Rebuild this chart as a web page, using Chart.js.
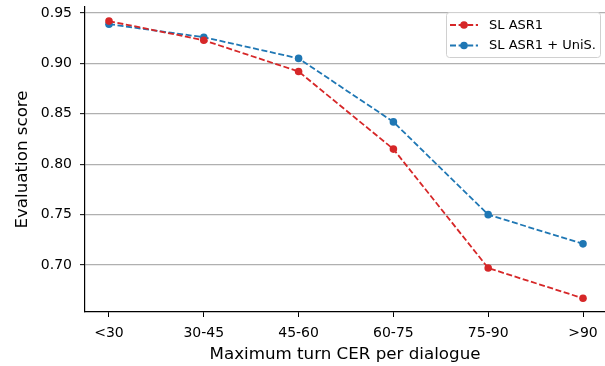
<!DOCTYPE html>
<html>
<head>
<meta charset="utf-8">
<script src="https://cdn.jsdelivr.net/npm/chart.js@4"></script>
<style>
  html, body { margin: 0; padding: 0; background: #fff; }
  #wrap { width: 605px; height: 366px; }
</style>
</head>
<body>
<div id="wrap"><canvas id="chart" width="605" height="366"></canvas></div>
<script>
const categories = ["<30", "30-45", "45-60", "60-75", "75-90", ">90"];
const slAsr1 = [0.942, 0.923, 0.892, 0.815, 0.697, 0.667];
const slAsr1Unis = [0.939, 0.926, 0.905, 0.842, 0.750, 0.721];
const yTicks = [0.70, 0.75, 0.80, 0.85, 0.90, 0.95];

const RED = "#d62728";
const BLUE = "#1f77b4";
const FONT = "'DejaVu Sans', sans-serif";
const DASH = [6, 2.6];

const toPoints = (arr) => arr.map((v, i) => ({ x: i, y: v }));

// legend box drawn inside the plot, matplotlib style
const boxLegend = {
  id: "boxLegend",
  afterDraw(chart) {
    const ctx = chart.ctx;
    const x0 = 446, y0 = 12, w = 154, h = 45;
    ctx.save();
    ctx.fillStyle = "rgba(255,255,255,0.8)";
    ctx.strokeStyle = "#d0d0d0";
    ctx.lineWidth = 1;
    ctx.beginPath();
    ctx.roundRect(x0 + 0.5, y0 + 0.5, w, h, 3);
    ctx.fill();
    ctx.stroke();
    chart.data.datasets.forEach((ds, i) => {
      const y = y0 + 13 + i * 20.5;
      ctx.strokeStyle = ds.borderColor;
      ctx.lineWidth = 1.8;
      ctx.setLineDash(DASH);
      ctx.beginPath();
      ctx.moveTo(450, y);
      ctx.lineTo(478, y);
      ctx.stroke();
      ctx.setLineDash([]);
      ctx.fillStyle = ds.borderColor;
      ctx.beginPath();
      ctx.arc(464, y, 3.8, 0, Math.PI * 2);
      ctx.fill();
      ctx.fillStyle = "#000";
      ctx.font = "13px " + FONT;
      ctx.textBaseline = "middle";
      ctx.fillText(ds.label, 489, y + 0.5);
    });
    ctx.restore();
  }
};

const ctx = document.getElementById("chart").getContext("2d");

new Chart(ctx, {
  type: "line",
  data: {
    datasets: [
      {
        label: "SL ASR1",
        data: toPoints(slAsr1),
        borderColor: RED,
        backgroundColor: RED,
        borderWidth: 1.8,
        borderDash: DASH,
        pointRadius: 3.8,
        pointBorderWidth: 0,
        fill: false,
      },
      {
        label: "SL ASR1 + UniS.",
        data: toPoints(slAsr1Unis),
        borderColor: BLUE,
        backgroundColor: BLUE,
        borderWidth: 1.8,
        borderDash: DASH,
        pointRadius: 3.8,
        pointBorderWidth: 0,
        fill: false,
      },
    ],
  },
  options: {
    responsive: false,
    animation: false,
    layout: { autoPadding: false, padding: { top: 7, right: 0, left: 0, bottom: 0 } },
    plugins: {
      legend: { display: false },
      tooltip: { enabled: false },
    },
    scales: {
      x: {
        type: "linear",
        min: -0.253,
        max: 5.232,
        afterBuildTicks: (axis) => {
          axis.ticks = categories.map((c, i) => ({ value: i }));
        },
        afterFit: (axis) => {
          axis.height = 54;
          axis.paddingLeft = 0;
          axis.paddingRight = 0;
        },
        ticks: {
          callback: (v) => categories[v],
          color: "#000",
          font: { family: FONT, size: 14 },
          padding: 8,
          maxRotation: 0,
          autoSkip: false,
        },
        grid: {
          drawOnChartArea: false,
          drawTicks: true,
          tickLength: 5,
          tickColor: "#000",
          tickWidth: 1,
        },
        border: { display: true, color: "#000", width: 1.2 },
        title: {
          display: true,
          text: "Maximum turn CER per dialogue",
          color: "#000",
          font: { family: FONT, size: 16.7 },
          padding: { top: 2, bottom: 1 },
        },
      },
      y: {
        min: 0.6534,
        max: 0.956,
        afterBuildTicks: (axis) => {
          axis.ticks = yTicks.map((v) => ({ value: v }));
        },
        afterFit: (axis) => {
          axis.width = 85;
          axis.paddingTop = 0;
          axis.paddingBottom = 0;
        },
        ticks: {
          callback: (v) => v.toFixed(2),
          color: "#000",
          font: { family: FONT, size: 14 },
          padding: 8,
        },
        grid: {
          color: "#b0b0b0",
          lineWidth: 1.3,
          drawTicks: true,
          tickLength: 5,
          tickColor: "#000",
          tickWidth: 1,
        },
        border: { display: true, color: "#000", width: 1.2 },
        title: {
          display: true,
          text: "Evaluation score",
          color: "#000",
          font: { family: FONT, size: 16.7 },
          padding: { top: 13, bottom: 4 },
        },
      },
    },
  },
  plugins: [boxLegend],
});
</script>
</body>
</html>
